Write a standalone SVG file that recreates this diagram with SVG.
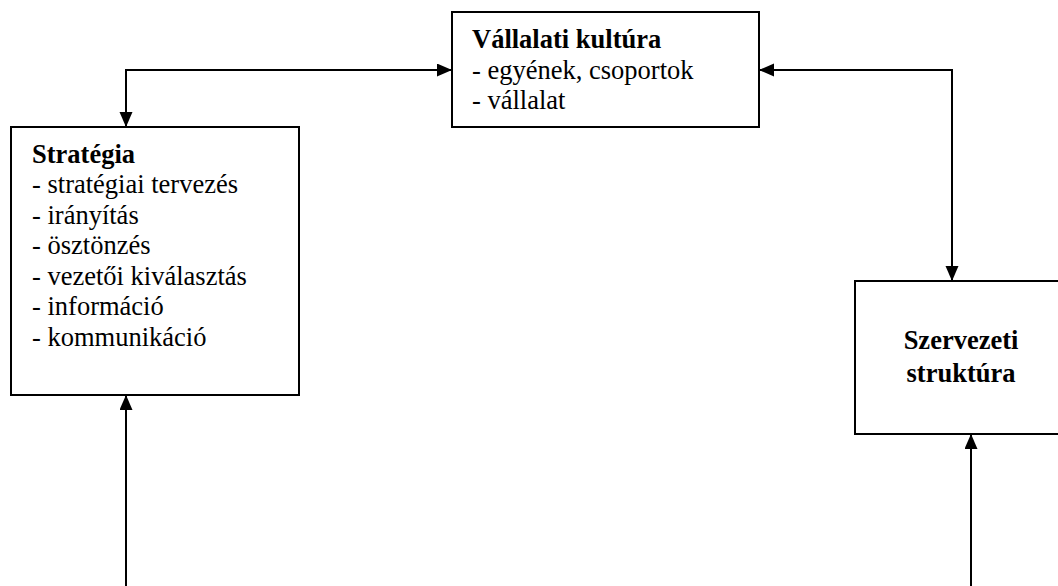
<svg xmlns="http://www.w3.org/2000/svg" width="1058" height="586" viewBox="0 0 1058 586">
  <style>
    .box { fill: #ffffff; stroke: #000000; stroke-width: 2; }
    .t { font-family: "Liberation Serif", "Times New Roman", serif; font-size: 26.5px; fill: #000000; }
    .b { font-weight: bold; }
    .c { text-anchor: middle; }
    .conn { fill: none; stroke: #000000; stroke-width: 2; }
  </style>
  <defs>
    <marker id="arrow" markerUnits="userSpaceOnUse" markerWidth="16" markerHeight="14" refX="15" refY="6.5" orient="auto-start-reverse" viewBox="0 0 16 14">
      <path d="M0,0 L15,6.5 L0,13 z" fill="#000000"/>
    </marker>
  </defs>
  <rect width="1058" height="586" fill="#ffffff"/>

  <g id="connectors">
    <path class="conn" d="M126,127 L126,70 L452,70" marker-start="url(#arrow)" marker-end="url(#arrow)"/>
    <path class="conn" d="M759,70 L952,70 L952,281" marker-start="url(#arrow)" marker-end="url(#arrow)"/>
    <path class="conn" d="M126,590 L126,395" marker-end="url(#arrow)"/>
    <path class="conn" d="M971,590 L971,434" marker-end="url(#arrow)"/>
  </g>

  <g id="vallalati-kultura">
    <rect class="box" x="452" y="12" width="307" height="115"/>
    <text class="t b" x="472" y="48">Vállalati kultúra</text>
    <text class="t" x="472" y="78.5">- egyének, csoportok</text>
    <text class="t" x="472" y="109">- vállalat</text>
  </g>

  <g id="strategia">
    <rect class="box" x="11" y="127" width="288" height="268"/>
    <text class="t b" x="32" y="163">Stratégia</text>
    <text class="t" x="32" y="193">- stratégiai tervezés</text>
    <text class="t" x="32" y="223.5">- irányítás</text>
    <text class="t" x="32" y="254">- ösztönzés</text>
    <text class="t" x="32" y="284.5">- vezetői kiválasztás</text>
    <text class="t" x="32" y="315">- információ</text>
    <text class="t" x="32" y="345.5">- kommunikáció</text>
  </g>

  <g id="szervezeti-struktura">
    <rect class="box" x="855" y="281" width="212" height="153"/>
    <text class="t b c" x="961" y="349">Szervezeti</text>
    <text class="t b c" x="961" y="382">struktúra</text>
  </g>
</svg>
